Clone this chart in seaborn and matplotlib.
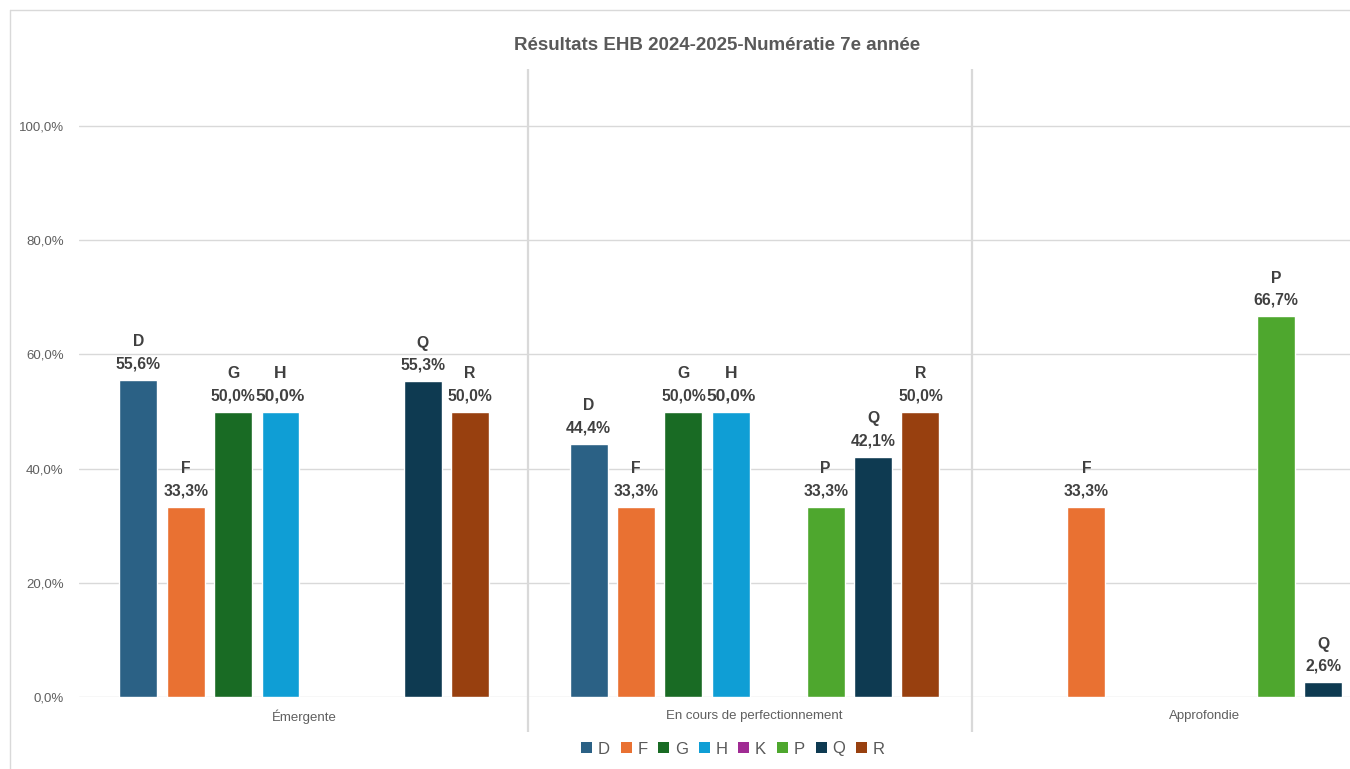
import numpy as np
import pandas as pd
import matplotlib
matplotlib.use("Agg")
import matplotlib.pyplot as plt
from matplotlib.patches import Patch
from matplotlib.lines import Line2D
import seaborn as sns

# === DONNÉES ===
niveaux = ["Émergente", "En cours de perfectionnement", "Approfondie"]
groupes = ["D", "F", "G", "H", "K", "P", "Q", "R"]
couleurs = ["#2B6185", "#E97132", "#196B24", "#0F9ED5", "#A02B93", "#4EA72E", "#0E3A51", "#98400F"]

# pourcentages par groupe (NaN = pas de barre)
val_D = [55.6, 44.4, np.nan]
val_F = [33.3, 33.3, 33.3]
val_G = [50.0, 50.0, np.nan]
val_H = [50.0, 50.0, np.nan]
val_K = [np.nan, np.nan, np.nan]
val_P = [np.nan, 33.3, 66.7]
val_Q = [55.3, 42.1, 2.6]
val_R = [50.0, 50.0, np.nan]

titre = "Résultats EHB 2024-2025-Numératie 7e année"
yticks = [0, 20, 40, 60, 80, 100]

# === TABLE LONGUE ===
series = [val_D, val_F, val_G, val_H, val_K, val_P, val_Q, val_R]
lignes = []
for g, vals in zip(groupes, series):
    for niv, v in zip(niveaux, vals):
        lignes.append({"Niveau": niv, "Groupe": g, "Pct": v})
df = pd.DataFrame(lignes)

# === FIGURE ===
sns.set_style("white")
plt.rcParams["font.family"] = ["Liberation Sans", "DejaVu Sans"]
W, H = 1350, 769
fig = plt.figure(figsize=(W / 100, H / 100), dpi=100)

# la zone de tracé dépasse à droite (graphique coupé comme dans l'original)
ax = fig.add_axes([79 / W, 72 / H, 1351 / W, 628 / H])

largeur = 0.842
sns.barplot(data=df, x="Niveau", y="Pct", hue="Groupe", order=niveaux, hue_order=groupes,
            palette=couleurs, width=largeur, gap=0.2, saturation=1, legend=False,
            errorbar=None, ax=ax)

ax.set_xlim(-0.5, 2.5)
ax.set_ylim(0, 110)
ax.set_yticks(yticks)
ax.set_yticklabels([f"{t:.1f}".replace(".", ",") + "%" for t in yticks])
ax.grid(axis="y", color="#D9D9D9", lw=1)
ax.set_axisbelow(True)
for s in ax.spines.values():
    s.set_visible(False)
ax.set_xlabel("")
ax.set_ylabel("")
ax.tick_params(axis="y", length=0, pad=11, labelsize=9.5, labelcolor="#5f5f5f")
ax.tick_params(axis="x", length=0, pad=9, labelsize=9.5, labelcolor="#5f5f5f")

# séparateurs entre catégories
ax.vlines([0.496, 1.483], -6.2, 110, color="#D9D9D9", lw=1.6, clip_on=False)

# === ÉTIQUETTES ===
pas = largeur / len(groupes)
for p in ax.patches:
    h = p.get_height()
    if not np.isfinite(h) or h <= 0:
        continue
    xc = p.get_x() + p.get_width() / 2
    cat = int(round(xc))
    i = int(round((xc - cat) / pas + (len(groupes) - 1) / 2))
    g = groupes[i]
    txt = f"{g}\n" + f"{h:.1f}".replace(".", ",") + "%"
    taille = 12.5 if g == "H" else 11.3
    ax.annotate(txt, (xc, h), xytext=(0, 6), textcoords="offset points",
                ha="center", va="bottom", fontsize=taille, fontweight="bold",
                color="#404040", linespacing=1.6, annotation_clip=False)

# === TITRE ===
fig.text(717 / W, 1 - 45 / H, titre, ha="center", va="center", fontsize=13.5,
         fontweight="bold", color="#595959")

# === LÉGENDE ===
poignees = [Patch(facecolor=c, edgecolor="none") for c in couleurs]
fig.legend(poignees, groupes, loc="center", bbox_to_anchor=(733 / W, 1 - 749 / H),
           ncol=len(groupes), frameon=False, fontsize=12, labelcolor="#595959",
           handlelength=0.65, handleheight=0.65, handletextpad=0.35, columnspacing=0.65)

# cadre du graphique
fig.add_artist(Line2D([10 / W, 1], [1 - 10 / H, 1 - 10 / H], color="#D9D9D9", lw=1))
fig.add_artist(Line2D([10 / W, 10 / W], [0, 1 - 10 / H], color="#D9D9D9", lw=1))

fig.savefig("out.png", dpi=100, facecolor="white")
